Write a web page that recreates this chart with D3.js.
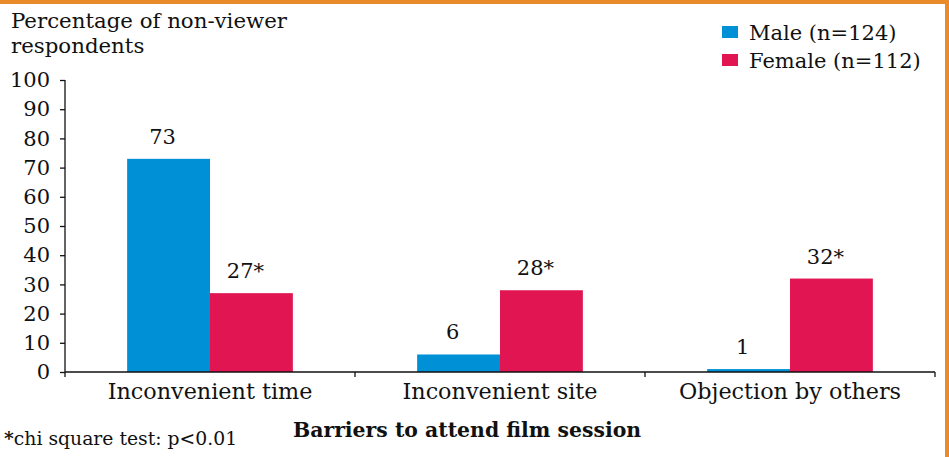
<!DOCTYPE html>
<html>
<head>
<meta charset="utf-8">
<script src="https://cdn.jsdelivr.net/npm/d3@7"></script>
<style>
	body { margin: 0; background: #fff; }
	svg text { font-family: "DejaVu Serif", serif; fill: #111; }
</style>
</head>
<body>
<div id="chart"></div>
<script>
// data
var categories = ["Inconvenient time", "Inconvenient site", "Objection by others"];
var seriesNames = ["Male (n=124)", "Female (n=112)"];
var maleValues = [73, 6, 1];
var femaleValues = [27, 28, 32];
var maleLabels = ["73", "6", "1"];
var femaleLabels = ["27*", "28*", "32*"];
var yTicks = [0, 10, 20, 30, 40, 50, 60, 70, 80, 90, 100];
var colors = ["#0090d6", "#e11552"];

drawchart()

function drawchart() {
	var W = 949, H = 457;
	var svg = d3.select("#chart")
		.append("svg")
		.attr("width", W)
		.attr("height", H);

	// orange frame top + right
	svg.append("rect").attr("x", 0).attr("y", 0).attr("width", W).attr("height", 4).attr("fill", "#e98a2b");
	svg.append("rect").attr("x", 945).attr("y", 0).attr("width", 4).attr("height", H).attr("fill", "#e98a2b");

	var x0 = d3.scaleBand()
		.domain(categories)
		.range([65, 935])
		.paddingInner(0).paddingOuter(0);
	var x1 = d3.scaleBand()
		.domain(seriesNames)
		.range([0, x0.bandwidth()])
		.paddingInner(0).paddingOuter(0.75);
	var y = d3.scaleLinear()
		.domain([0, 100])
		.range([372, 80]);

	// y axis
	var yAxis = svg.append("g")
		.attr("transform", "translate(65,0)")
		.call(d3.axisLeft(y).tickValues(yTicks).tickSize(5).tickPadding(10))
	yAxis.select(".domain").attr("stroke", "#111").attr("stroke-width", 1.3).attr("d", "M0,80V372");
	yAxis.selectAll(".tick line").attr("stroke", "#111").attr("stroke-width", 1.3);
	yAxis.selectAll("text").style("font-size", "21px").style("font-family", "DejaVu Serif").attr("fill", "#111");

	// bars
	var rows = categories.map(function(c, i) {
		return [
			{ cat: c, s: seriesNames[0], v: maleValues[i], lab: maleLabels[i], col: colors[0] },
			{ cat: c, s: seriesNames[1], v: femaleValues[i], lab: femaleLabels[i], col: colors[1] }
		];
	});
	var flat = [].concat.apply([], rows);

	svg.append("g").selectAll("rect")
		.data(flat)
		.join("rect")
		.attr("x", d => x0(d.cat) + x1(d.s))
		.attr("y", d => y(d.v))
		.attr("width", x1.bandwidth())
		.attr("height", d => y(0) - y(d.v))
		.attr("fill", d => d.col);

	svg.append("g").selectAll("text")
		.data(flat)
		.join("text")
		.attr("x", d => x0(d.cat) + x1(d.s) + x1.bandwidth() / 2)
		.attr("y", d => y(d.v) - 15)
		.attr("dx", -6)
		.attr("text-anchor", "middle")
		.style("font-size", "21px")
		.text(d => d.lab);

	// x axis, ticks at band boundaries
	var xAxis = svg.append("g")
		.attr("transform", "translate(0,372)")
		.call(d3.axisBottom(x0).tickSize(0).tickPadding(11));
	xAxis.select(".domain").attr("stroke", "#111").attr("stroke-width", 1.3).attr("d", "M65,0H935");
	xAxis.selectAll("text").style("font-size", "22.3px").style("font-family", "DejaVu Serif").attr("fill", "#111");
	var bounds = categories.map(c => x0(c)).concat([x0.range()[1]]);
	svg.append("g").selectAll("line")
		.data(bounds)
		.join("line")
		.attr("x1", d => d).attr("x2", d => d)
		.attr("y1", 372).attr("y2", 377)
		.attr("stroke", "#111").attr("stroke-width", 1.3);

	// y title
	var yt = svg.append("text")
		.attr("x", 11).attr("y", 28)
		.style("font-size", "21.3px");
	yt.append("tspan").attr("x", 11).text("Percentage of non-viewer");
	yt.append("tspan").attr("x", 11).attr("dy", 25).text("respondents");

	// x title
	svg.append("text")
		.attr("x", 467).attr("y", 437)
		.attr("text-anchor", "middle")
		.style("font-size", "20.4px")
		.style("font-weight", "bold")
		.text("Barriers to attend film session");

	// footnote
	var fn = svg.append("text")
		.attr("x", 4).attr("y", 445)
		.style("font-size", "18.8px");
	fn.append("tspan").style("font-weight", "bold").text("*");
	fn.append("tspan").text("chi square test: p<0.01");

	// legend
	var leg = svg.append("g").selectAll("g")
		.data(seriesNames)
		.join("g")
		.attr("transform", (d, i) => `translate(722,${26 + i * 28})`);
	leg.append("rect")
		.attr("width", 16).attr("height", 12)
		.attr("fill", (d, i) => colors[i]);
	leg.append("text")
		.attr("x", 27).attr("y", 14)
		.style("font-size", "21px")
		.text(d => d);
}
</script>
</body>
</html>
